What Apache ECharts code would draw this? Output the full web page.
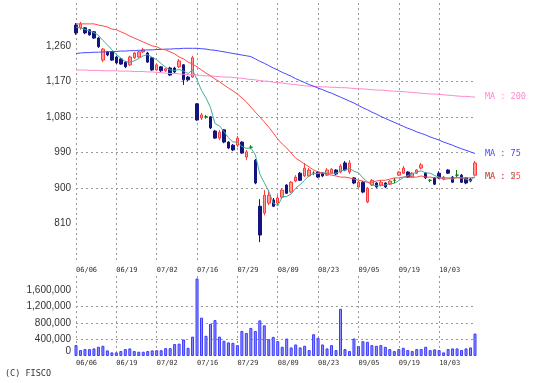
<!DOCTYPE html>
<html><head><meta charset="utf-8">
<script src="https://cdn.jsdelivr.net/npm/echarts@6/dist/echarts.min.js"></script>
<style>html,body{margin:0;padding:0;background:#fff}#c{width:538px;height:383px}</style>
</head><body><div id="c"></div>
<script>
const dates = [
'06/06','06/07','06/10','06/11','06/12','06/13','06/14','06/17','06/18',
'06/19','06/20','06/21','06/24','06/25','06/26','06/27','06/28','07/01',
'07/02','07/03','07/04','07/05','07/08','07/09','07/10','07/11','07/12',
'07/16','07/17','07/18','07/19','07/22','07/23','07/24','07/25','07/26',
'07/29','07/30','07/31','08/01','08/02','08/05','08/06','08/07','08/08',
'08/09','08/12','08/13','08/14','08/16','08/19','08/20','08/21','08/22',
'08/23','08/26','08/27','08/28','08/29','08/30','09/02','09/03','09/04',
'09/05','09/06','09/09','09/10','09/11','09/12','09/13','09/17','09/18',
'09/19','09/20','09/24','09/25','09/26','09/27','09/30','10/01','10/02',
'10/03','10/04','10/07','10/08','10/09','10/10','10/11','10/15','10/16'];

const opens = [1313,1306,1306,1301,1296,1280,1224,1245,1245,1232,1227,1219,1212,1230,1232,1245,1242,1230,1199,1207,1197,1204,1204,1207,1212,1181,1181,1113,1077,1080,1080,1044,1026,1047,1016,1008,1008,1016,978,1003,970,853,836,861,869,861,876,907,889,917,937,930,930,937,940,937,932,937,945,940,963,940,925,902,914,864,907,912,907,912,909,919,932,937,940,927,937,950,937,919,925,937,922,945,927,932,932,925,922,932];
const closes = [1293,1316,1293,1288,1280,1258,1252,1237,1224,1217,1214,1207,1232,1242,1245,1250,1219,1199,1212,1197,1202,1186,1194,1222,1174,1174,1230,1072,1085,1080,1052,1026,1041,1016,1001,996,1026,988,991,1003,912,780,881,881,853,874,894,886,914,927,919,950,945,937,927,930,945,947,935,955,945,963,912,914,889,899,919,902,914,902,917,919,940,950,927,937,945,958,925,919,909,925,927,937,914,932,914,912,917,963];
const lows = [1288,1301,1290,1286,1278,1255,1219,1234,1222,1214,1212,1204,1209,1227,1230,1242,1217,1197,1197,1194,1194,1184,1191,1204,1161,1171,1179,1070,1072,1075,1049,1024,1021,1013,998,993,1003,986,970,998,909,762,830,856,851,856,871,884,886,914,917,927,927,932,925,927,930,935,932,937,942,935,909,899,886,861,904,899,904,899,907,912,930,935,925,925,935,947,922,914,907,922,919,935,912,925,912,909,914,930];
const highs = [1318,1321,1308,1303,1298,1283,1255,1247,1247,1235,1230,1222,1235,1245,1247,1255,1245,1232,1214,1209,1204,1207,1207,1227,1214,1184,1235,1115,1090,1085,1082,1047,1047,1049,1018,1011,1031,1018,996,1008,973,871,894,894,874,881,899,909,917,932,940,963,950,942,942,940,950,950,947,960,968,970,927,917,917,902,922,914,919,914,919,925,942,955,942,940,947,963,940,922,927,942,930,947,930,945,935,927,925,968];

const volumes = [264,144,168,168,184,224,248,136,88,88,120,168,184,120,104,104,120,136,140,140,190,190,290,300,400,200,470,1880,930,490,780,870,470,370,330,320,264,608,560,680,608,864,744,408,464,360,224,424,208,280,208,248,144,528,440,280,184,264,144,1144,168,120,424,240,360,344,264,248,264,224,168,120,168,200,144,120,168,168,224,144,160,144,88,168,184,184,144,184,208,544].map(v => v * 1000);

const ma5 = [1308,1306,1302,1298,1294,1287,1274,1263,1250,1238,1229,1220,1219,1222,1228,1235,1238,1231,1225,1215,1206,1199,1198,1200,1196,1190,1199,1174,1147,1128,1104,1063,1057,1043,1027,1016,1016,1005,1000,1001,984,935,913,891,861,854,877,878,884,899,908,919,931,936,936,938,937,937,937,942,945,949,942,938,925,915,907,905,905,907,911,911,918,926,931,935,940,943,938,937,931,927,921,923,922,927,925,922,918,928];
const ma25 = [1316,1316,1316,1316,1316,1313,1311,1308,1303,1301,1296,1291,1285,1280,1275,1270,1265,1260,1258,1252,1250,1245,1240,1232,1227,1219,1214,1207,1199,1191,1184,1176,1169,1161,1153,1146,1138,1128,1118,1105,1092,1080,1067,1054,1039,1024,1011,1001,988,975,968,960,953,945,940,937,935,932,930,927,927,925,922,919,917,914,914,917,919,919,922,925,925,927,927,927,927,930,927,927,925,925,925,925,925,925,925,925,925,927];
const ma75 = [1241,1242,1243,1243,1244,1244,1245,1245,1246,1246,1247,1247,1248,1248,1249,1249,1250,1250,1251,1251,1252,1252,1253,1253,1254,1254,1254,1254,1253,1252,1250,1249,1247,1245,1243,1241,1239,1237,1235,1233,1227,1221,1216,1210,1204,1199,1193,1188,1183,1177,1172,1167,1162,1158,1153,1149,1144,1140,1135,1130,1125,1120,1115,1109,1103,1098,1092,1087,1081,1076,1071,1066,1061,1056,1051,1047,1042,1038,1034,1029,1025,1021,1016,1012,1008,1003,999,995,991,987];
const ma200 = [1199,1199,1199,1198,1198,1198,1197,1197,1197,1197,1196,1196,1196,1195,1195,1195,1194,1194,1193,1192,1191,1190,1190,1189,1188,1187,1187,1186,1185,1184,1184,1183,1182,1181,1181,1180,1179,1178,1176,1175,1174,1172,1171,1170,1168,1167,1166,1164,1163,1162,1160,1159,1158,1157,1157,1156,1156,1155,1155,1154,1154,1153,1152,1151,1151,1150,1149,1148,1148,1147,1146,1145,1145,1144,1143,1142,1141,1140,1139,1138,1138,1137,1136,1135,1134,1133,1132,1132,1131,1130];

const priceTicks = [810, 900, 990, 1080, 1170, 1260];
const volumeTicks = [0, 400000, 800000, 1200000, 1600000];
const maNames = ['MA : 5', 'MA : 25', 'MA : 75', 'MA : 200'];

const UP = '#ff3b3b', UPFILL = '#ff9c9c', DOWN = '#14147e', DOJI = '#0b7a0b';
const GRIDC = '#9a9a9a';
const dash = {color: GRIDC, width: 1, type: [2, 3]};
const monoFont = 'DejaVu Sans Mono';

const candleData = dates.map((d, i) => {
  const item = {value: [opens[i], closes[i], lows[i], highs[i]]};
  if (opens[i] === closes[i]) {
    item.itemStyle = {color: DOJI, color0: DOJI, borderColor: DOJI, borderColor0: DOJI};
  }
  return item;
});

function maSeries(name, data, color, z) {
  return {
    name, type: 'line', data, xAxisIndex: 0, yAxisIndex: 0, symbol: 'none', z,
    lineStyle: {color, width: 1}, silent: true, animation: false,
    endLabel: {show: true, formatter: name, color, fontFamily: monoFont, fontSize: 8.5, distance: 10}
  };
}

const chart = echarts.init(document.getElementById('c'), null, {renderer: 'canvas'});
chart.setOption({
  animation: false,
  backgroundColor: '#fff',
  grid: [
    {left: 76, right: 63, top: 3, height: 260, outerBoundsMode: 'none'},
    {left: 76, right: 63, top: 276, height: 80, outerBoundsMode: 'none'}
  ],
  xAxis: [
    {type: 'category', gridIndex: 0, data: dates, boundaryGap: false,
     axisLine: {show: false}, axisTick: {show: false},
     axisLabel: {interval: 8, align: 'left', margin: 4, fontFamily: monoFont, fontSize: 7, color: '#333'},
     splitLine: {show: true, interval: 8, lineStyle: dash}},
    {type: 'category', gridIndex: 1, data: dates, boundaryGap: false,
     axisLine: {show: false}, axisTick: {show: false},
     axisLabel: {interval: 8, align: 'left', margin: 4, fontFamily: monoFont, fontSize: 7, color: '#333'},
     splitLine: {show: true, interval: 8, lineStyle: dash}}
  ],
  yAxis: [
    {type: 'value', gridIndex: 0, min: 709, max: 1369, scale: true,
     axisLine: {show: false},
     axisTick: {show: false, customValues: priceTicks},
     axisLabel: {customValues: priceTicks, margin: 5, fontFamily: 'Liberation Sans', fontSize: 10, color: '#333',
       formatter: v => v.toLocaleString('en-US')},
     splitLine: {show: true, lineStyle: dash, showMinLine: false, showMaxLine: false}},
    {type: 'value', gridIndex: 1, min: 0, max: 1940000,
     axisLine: {show: false},
     axisTick: {show: false, customValues: volumeTicks},
     axisLabel: {customValues: volumeTicks, margin: 5, fontFamily: 'Liberation Sans', fontSize: 10, color: '#333',
       verticalAlignMinLabel: 'bottom',
       formatter: v => v.toLocaleString('en-US')},
     splitLine: {show: true, lineStyle: dash, showMinLine: false, showMaxLine: false}}
  ],
  series: [
    {type: 'candlestick', xAxisIndex: 0, yAxisIndex: 0, data: candleData, barWidth: 3, z: 3,
     itemStyle: {color: UPFILL, borderColor: UP, color0: DOWN, borderColor0: DOWN, borderWidth: 1}},
    maSeries(maNames[0], ma5, '#3fae9e', 4),
    maSeries(maNames[3], ma200, '#ff88cc', 4),
    maSeries(maNames[2], ma75, '#4747ff', 4),
    maSeries(maNames[1], ma25, '#ff4a4a', 5),
    {type: 'bar', xAxisIndex: 1, yAxisIndex: 1, data: volumes, barWidth: 3,
     itemStyle: {color: '#9090ff', borderColor: '#3a3aff', borderWidth: 1}}
  ],
  graphic: [
    {type: 'text', left: 5, top: 369, style: {text: '(C) FISCO', fontFamily: monoFont, fontSize: 8.5, fill: '#333'}}
  ]
});
</script>
</body></html>
